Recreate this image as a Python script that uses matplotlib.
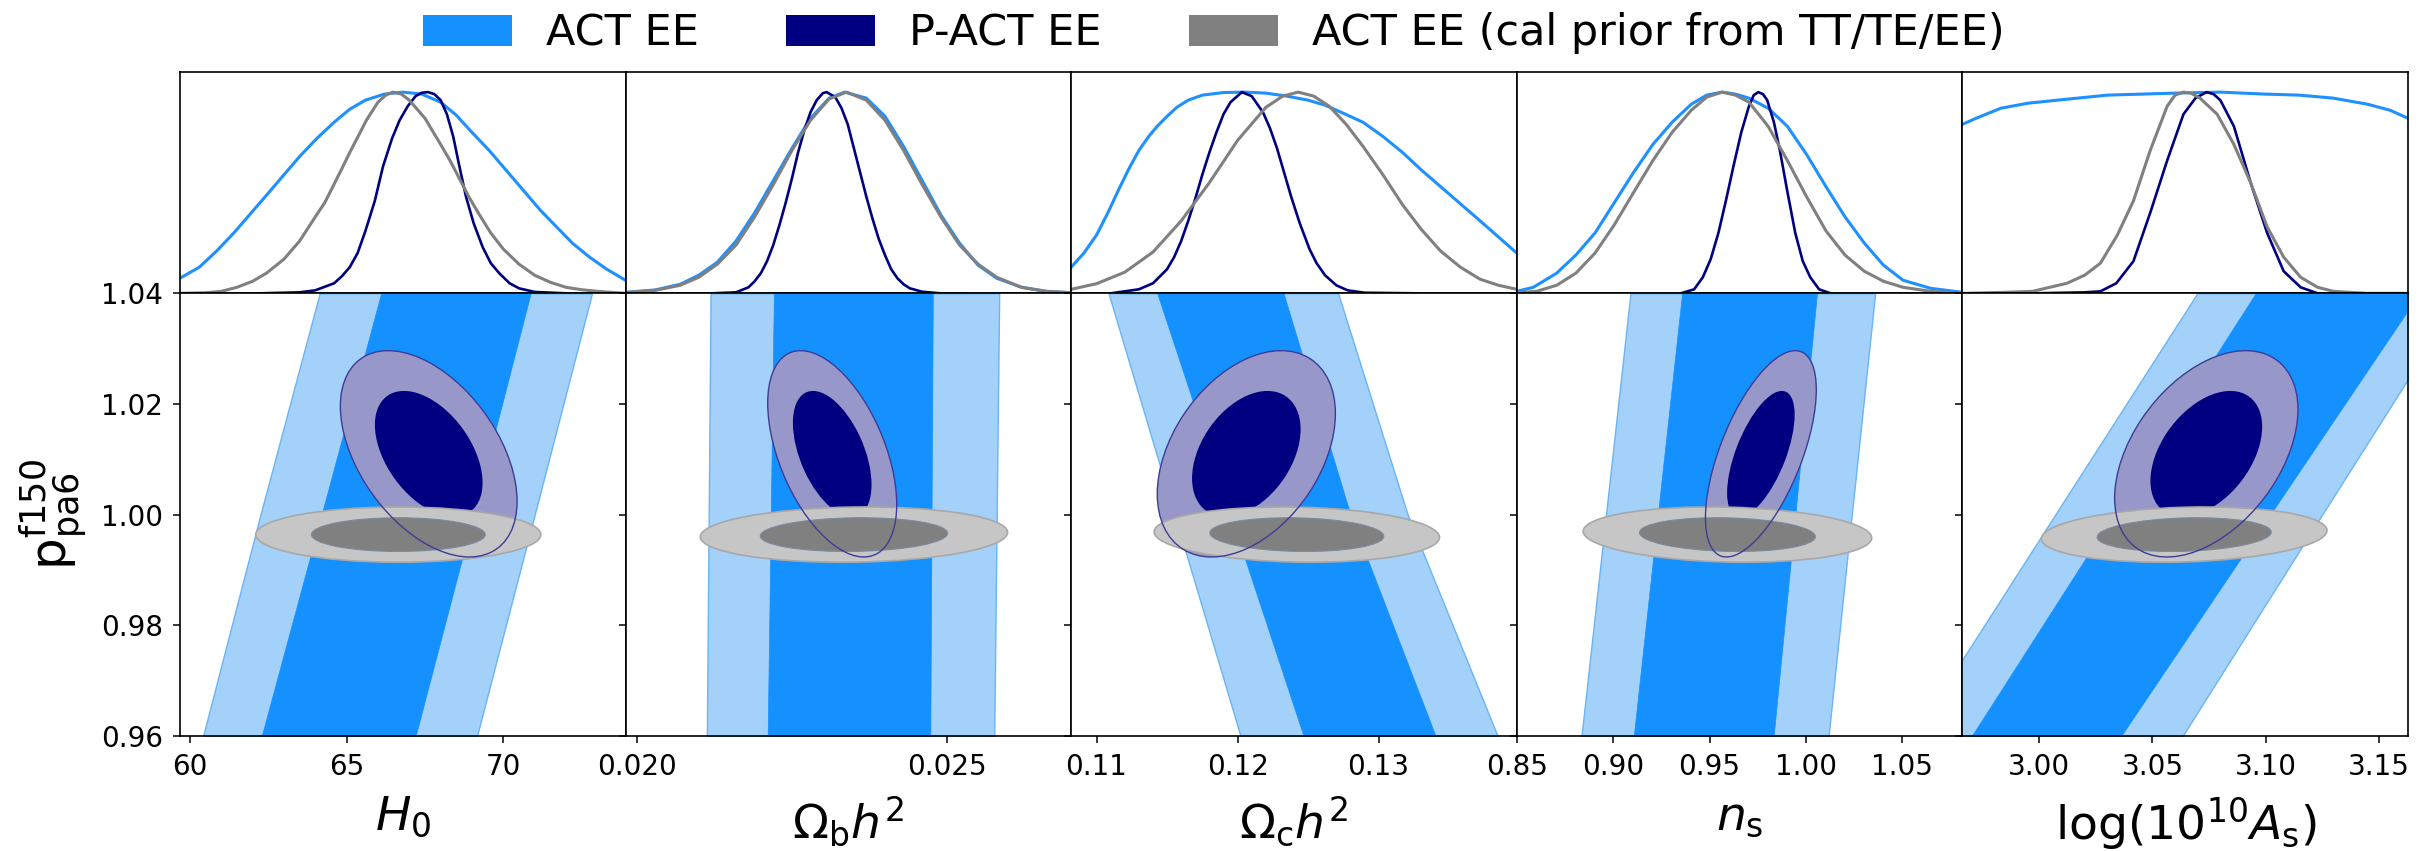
import numpy as np
import matplotlib
matplotlib.use('Agg')
import matplotlib.pyplot as plt
from matplotlib.patches import Circle, Patch
from matplotlib.transforms import Affine2D

# ---- 1D marginals (x, relative density) ----
h0_act_x = [59.68, 60.3, 60.85, 61.4, 61.9, 62.4, 62.95, 63.5, 64.05, 64.6, 65.1, 65.6, 66.2, 66.8, 67.4,
            68.0, 68.5, 69.0, 69.55, 70.1, 70.65, 71.2, 71.7, 72.2, 72.75, 73.3, 73.9]
h0_act_y = [0.075, 0.13, 0.21, 0.30, 0.39, 0.48, 0.58, 0.68, 0.77, 0.85, 0.915, 0.96, 0.99, 1.0, 0.99,
            0.95, 0.885, 0.80, 0.71, 0.61, 0.51, 0.41, 0.33, 0.25, 0.18, 0.12, 0.065]
h0_pact_x = [62.2, 63.5, 64.0, 64.6, 64.85, 65.1, 65.35, 65.6, 65.9, 66.16, 66.45, 66.69, 66.95, 67.2, 67.4,
             67.6, 67.8, 68.0, 68.2, 68.4, 68.6, 68.81, 69.05, 69.34, 69.6, 69.87, 70.2, 70.5, 71.0, 72.0]
h0_pact_y = [0.0, 0.005, 0.015, 0.05, 0.085, 0.13, 0.20, 0.31, 0.46, 0.63, 0.77, 0.86, 0.93, 0.98, 0.997,
             1.0, 0.99, 0.96, 0.89, 0.78, 0.63, 0.48, 0.35, 0.23, 0.15, 0.10, 0.05, 0.025, 0.007, 0.0]
h0_cal_x = [59.68, 60.5, 61.0, 61.5, 62.0, 62.44, 63.0, 63.5, 64.0, 64.3, 64.56, 64.85, 65.1, 65.4, 65.63,
            66.0, 66.25, 66.47, 66.75, 67.0, 67.5, 68.0, 68.3, 68.6, 68.9, 69.2, 69.6, 70.0, 70.5, 71.0,
            71.5, 72.0, 72.5, 73.0, 73.9]
h0_cal_y = [0.0, 0.003, 0.01, 0.03, 0.06, 0.10, 0.17, 0.26, 0.38, 0.45, 0.53, 0.62, 0.70, 0.79, 0.86,
            0.95, 0.985, 1.0, 0.99, 0.96, 0.87, 0.74, 0.66, 0.57, 0.48, 0.40, 0.30, 0.22, 0.145, 0.09,
            0.055, 0.03, 0.018, 0.01, 0.0]

ombh2_act_x = [0.01982, 0.0203, 0.0207, 0.0210, 0.0213, 0.0216, 0.0219, 0.0222, 0.0225, 0.0228, 0.0231, 0.02335,
               0.0237, 0.0240, 0.0243, 0.0246, 0.0249, 0.0252, 0.0255, 0.0258, 0.0262, 0.0266, 0.0270]
ombh2_act_y = [0.005, 0.017, 0.045, 0.09, 0.155, 0.26, 0.40, 0.56, 0.72, 0.87, 0.97, 1.0,
               0.97, 0.88, 0.73, 0.56, 0.39, 0.25, 0.14, 0.075, 0.03, 0.01, 0.003]
ombh2_pact_x = [0.0212, 0.0216, 0.0218, 0.0219, 0.0220, 0.0221, 0.0222, 0.0223, 0.0224, 0.0225, 0.0226, 0.0227,
                0.0228, 0.0229, 0.0230, 0.02306, 0.0232, 0.0233, 0.0234, 0.0235, 0.0236, 0.0237, 0.0238, 0.0239,
                0.0240, 0.0241, 0.0242, 0.0243, 0.0244, 0.0246, 0.0249, 0.0253]
ombh2_pact_y = [0.0, 0.005, 0.03, 0.06, 0.10, 0.16, 0.24, 0.34, 0.45, 0.57, 0.70, 0.81,
                0.90, 0.96, 0.995, 1.0, 0.975, 0.92, 0.84, 0.72, 0.60, 0.48, 0.37, 0.27,
                0.19, 0.12, 0.075, 0.045, 0.025, 0.008, 0.0, 0.0]
ombh2_cal_x = [0.01982, 0.0203, 0.0207, 0.0210, 0.0213, 0.0216, 0.0219, 0.0222, 0.0225, 0.0228, 0.0231, 0.02338,
               0.0237, 0.0240, 0.0243, 0.0246, 0.0249, 0.0252, 0.0255, 0.0258, 0.0262, 0.0266, 0.0270]
ombh2_cal_y = [0.004, 0.015, 0.04, 0.08, 0.145, 0.24, 0.38, 0.54, 0.71, 0.86, 0.966, 1.0,
               0.96, 0.86, 0.71, 0.54, 0.38, 0.24, 0.145, 0.08, 0.03, 0.01, 0.003]

omch2_act_x = [0.1082, 0.1091, 0.1100, 0.1108, 0.1116, 0.1123, 0.1130, 0.1137, 0.1143, 0.1150, 0.1157, 0.1165,
               0.1175, 0.1190, 0.1205, 0.1220, 0.1235, 0.1250, 0.1262, 0.1275, 0.1289, 0.1303, 0.1317, 0.1330,
               0.1344, 0.1358, 0.1372, 0.1385, 0.1398]
omch2_act_y = [0.13, 0.20, 0.29, 0.40, 0.52, 0.62, 0.71, 0.78, 0.83, 0.88, 0.925, 0.96,
               0.985, 0.998, 1.0, 0.995, 0.98, 0.96, 0.935, 0.895, 0.85, 0.78, 0.70, 0.615,
               0.53, 0.445, 0.36, 0.28, 0.20]
omch2_pact_x = [0.1110, 0.1130, 0.1140, 0.1150, 0.1155, 0.1160, 0.1165, 0.1170, 0.1175, 0.1180, 0.1185, 0.1190,
                0.1195, 0.1203, 0.1210, 0.1218, 0.1223, 0.1228, 0.1233, 0.1238, 0.1244, 0.1251, 0.1256, 0.1262,
                0.1270, 0.1278, 0.1290, 0.1328]
omch2_pact_y = [0.0, 0.02, 0.05, 0.12, 0.18, 0.26, 0.36, 0.47, 0.59, 0.70, 0.80, 0.89,
                0.95, 1.0, 0.98, 0.90, 0.82, 0.72, 0.60, 0.48, 0.35, 0.22, 0.15, 0.09,
                0.04, 0.015, 0.003, 0.0]
omch2_cal_x = [0.1082, 0.1100, 0.1120, 0.1140, 0.1160, 0.1180, 0.1200, 0.1220, 0.1232, 0.1243, 0.1254, 0.1265,
               0.1277, 0.1289, 0.1303, 0.1317, 0.1330, 0.1344, 0.1358, 0.1372, 0.1385, 0.1398]
omch2_cal_y = [0.02, 0.048, 0.105, 0.205, 0.36, 0.55, 0.76, 0.924, 0.98, 1.0, 0.98, 0.93,
               0.84, 0.73, 0.59, 0.44, 0.32, 0.21, 0.13, 0.07, 0.04, 0.02]

ns_act_x = [0.8497, 0.8583, 0.8704, 0.8804, 0.8904, 0.9004, 0.9104, 0.9205, 0.9305, 0.9405, 0.9485, 0.9565,
            0.9635, 0.9705, 0.9805, 0.9905, 1.0005, 1.0106, 1.0205, 1.0305, 1.0405, 1.0507, 1.0650, 1.0816]
ns_act_y = [0.01, 0.03, 0.10, 0.19, 0.30, 0.45, 0.60, 0.74, 0.85, 0.94, 0.985, 1.0,
            0.99, 0.97, 0.92, 0.83, 0.69, 0.53, 0.38, 0.25, 0.14, 0.065, 0.025, 0.005]
ns_pact_x = [0.9350, 0.9420, 0.9465, 0.9506, 0.9546, 0.9585, 0.9624, 0.9665, 0.9705, 0.9730, 0.9754, 0.9778,
             0.9800, 0.9835, 0.9866, 0.9906, 0.9946, 0.9985, 1.0024, 1.0070, 1.0130]
ns_pact_y = [0.0, 0.02, 0.08, 0.17, 0.30, 0.46, 0.63, 0.80, 0.93, 0.985, 1.0, 0.99,
             0.96, 0.85, 0.71, 0.50, 0.30, 0.16, 0.08, 0.02, 0.0]
ns_cal_x = [0.8497, 0.8600, 0.8704, 0.8804, 0.8904, 0.9004, 0.9104, 0.9205, 0.9305, 0.9405, 0.9485, 0.9565,
            0.9635, 0.9705, 0.9805, 0.9905, 1.0005, 1.0106, 1.0205, 1.0305, 1.0405, 1.0507, 1.0650, 1.0816]
ns_cal_y = [0.003, 0.01, 0.04, 0.10, 0.20, 0.34, 0.50, 0.66, 0.80, 0.91, 0.975, 1.0,
            0.985, 0.95, 0.83, 0.66, 0.48, 0.31, 0.19, 0.11, 0.06, 0.03, 0.01, 0.0]

loga_act_x = [2.966, 2.972, 2.983, 2.995, 3.008, 3.030, 3.060, 3.080, 3.100, 3.115, 3.130, 3.145, 3.155, 3.163]
loga_act_y = [0.84, 0.87, 0.92, 0.945, 0.96, 0.985, 0.995, 1.0, 0.99, 0.985, 0.97, 0.94, 0.91, 0.87]
loga_pact_x = [2.997, 3.020, 3.027, 3.034, 3.0416, 3.049, 3.0565, 3.0637, 3.0690, 3.0739, 3.0770, 3.080, 3.086,
               3.0934, 3.1007, 3.108, 3.1155, 3.123, 3.140]
loga_pact_y = [0.0, 0.005, 0.01, 0.05, 0.16, 0.40, 0.66, 0.89, 0.97, 1.0, 0.99, 0.96, 0.83,
               0.55, 0.30, 0.11, 0.03, 0.0, 0.0]
loga_cal_x = [2.966, 2.985, 2.997, 3.0122, 3.020, 3.027, 3.0345, 3.0416, 3.049, 3.0565, 3.0600, 3.0636, 3.0670,
              3.071, 3.0786, 3.086, 3.0934, 3.1007, 3.108, 3.1155, 3.123, 3.130, 3.145, 3.163]
loga_cal_y = [0.0, 0.005, 0.01, 0.05, 0.09, 0.15, 0.29, 0.46, 0.71, 0.93, 0.985, 1.0, 0.995,
              0.97, 0.89, 0.74, 0.55, 0.33, 0.18, 0.08, 0.03, 0.01, 0.0, 0.0]

# ---- ACT EE 2D bands: boundary x at p = 0.96, 1.00, 1.04 (one row per parameter) ----
band_p = [0.96, 1.00, 1.04]
act_light_lo = [[60.42, 62.25, 64.14], [0.02113, 0.02116, 0.02119], [0.12021, 0.11553, 0.11085],
                [0.88337, 0.8961, 0.90884], [2.9443, 3.0070, 3.0698]]
act_dark_lo = [[62.29, 64.2, 66.10], [0.02211, 0.02216, 0.02221], [0.12468, 0.11949, 0.11430],
               [0.91057, 0.9231, 0.93571], [2.9701, 3.0328, 3.0956]]
act_dark_hi = [[67.20, 69.05, 70.87], [0.02473, 0.02475, 0.02477], [0.13404, 0.1280, 0.12326],
               [0.98333, 0.9946, 1.00587], [3.0361, 3.1020, 3.168]]
act_light_hi = [[69.16, 71.0, 72.83], [0.02576, 0.02580, 0.02584], [0.13844, 0.13206, 0.12713],
                [1.01192, 1.0240, 1.03617], [3.0633, 3.1250, 3.187]]

# ---- Gaussian summaries of the closed 2D contours ----
pact_mean = [67.62, 0.02315, 0.12062, 0.9767, 3.0738]
pact_sigma = [1.134, 0.000418, 0.00254, 0.0116, 0.0163]
pact_rho = [-0.46, -0.49, 0.39, 0.62, 0.43]
pact_p = (1.011, 0.0075)
cal_mean = [66.65, 0.0235, 0.1242, 0.9593, 3.0640]
cal_sigma = [1.83, 0.000996, 0.00407, 0.0302, 0.0254]
cal_rho = [0.0, 0.08, -0.10, -0.12, 0.15]
cal_p = (0.9964, 0.00201)

xlabels = [r'$H_0$', r'$\Omega_{\rm b}h^2$', r'$\Omega_{\rm c}h^2$', r'$n_{\rm s}$', r'${\rm log}(10^{10}A_{\rm s})$']
xticks = [[60, 65, 70], [0.020, 0.025], [0.11, 0.12, 0.13], [0.85, 0.90, 0.95, 1.00, 1.05], [3.00, 3.05, 3.10, 3.15]]
xticklabels = [['60', '65', '70'], ['0.020', '0.025'], ['0.11', '0.12', '0.13'],
               ['0.85', '0.90', '0.95', '1.00', '1.05'], ['3.00', '3.05', '3.10', '3.15']]
xlims = [(59.68, 73.9), (0.01982, 0.0270), (0.1082, 0.1398), (0.8497, 1.0816), (2.966, 3.163)]
yticks = [0.96, 0.98, 1.00, 1.02, 1.04]
yticklabels = ['0.96', '0.98', '1.00', '1.02', '1.04']

curves = [(h0_act_x, h0_act_y, h0_pact_x, h0_pact_y, h0_cal_x, h0_cal_y),
          (ombh2_act_x, ombh2_act_y, ombh2_pact_x, ombh2_pact_y, ombh2_cal_x, ombh2_cal_y),
          (omch2_act_x, omch2_act_y, omch2_pact_x, omch2_pact_y, omch2_cal_x, omch2_cal_y),
          (ns_act_x, ns_act_y, ns_pact_x, ns_pact_y, ns_cal_x, ns_cal_y),
          (loga_act_x, loga_act_y, loga_pact_x, loga_pact_y, loga_cal_x, loga_cal_y)]

c_act = '#1E90FF'
c_act_dark = '#1490FF'
c_act_light = '#A3D1FA'
c_pact = '#000080'
c_pact_light = '#9797CA'
c_cal = '#808080'
c_cal_light = '#C6C6C6'

K68, K95 = 1.515, 2.486


def gauss_ellipse(ax, mx, my, sx, sy, rho, k, **kw):
    m = np.array([[k * sx, 0, mx], [k * rho * sy, k * sy * np.sqrt(1 - rho ** 2), my], [0, 0, 1]])
    c = Circle((0, 0), 1, transform=Affine2D(m) + ax.transData, **kw)
    ax.add_patch(c)


fig, axes = plt.subplots(2, 5, figsize=(24.18, 8.51), dpi=100, sharex='col',
                         gridspec_kw=dict(height_ratios=[1, 2], wspace=0, hspace=0))
fig.subplots_adjust(left=0.0744, right=0.9959, top=0.9154, bottom=0.1351)

for i in range(5):
    top = axes[0, i]
    bot = axes[1, i]
    ax_, ay_, px_, py_, cx_, cy_ = curves[i]
    top.plot(ax_, ay_, color=c_act, lw=2.2, solid_joinstyle='round')
    top.plot(px_, py_, color=c_pact, lw=1.9, solid_joinstyle='round')
    top.plot(cx_, cy_, color=c_cal, lw=2.2, solid_joinstyle='round')
    top.set_ylim(0, 1.1)
    top.set_yticks([])
    top.tick_params(axis='x', labelbottom=False, length=5, width=1.1)

    bot.fill_betweenx(band_p, act_light_lo[i], act_light_hi[i], facecolor=c_act_light,
                      edgecolor='#6AB4F7', lw=1.0, zorder=1)
    bot.fill_betweenx(band_p, act_dark_lo[i], act_dark_hi[i], facecolor=c_act_dark,
                      edgecolor=c_act_dark, lw=0.5, zorder=1.5)

    gauss_ellipse(bot, pact_mean[i], pact_p[0], pact_sigma[i], pact_p[1], pact_rho[i], K95,
                  facecolor=c_pact_light, edgecolor='none', zorder=2)
    gauss_ellipse(bot, pact_mean[i], pact_p[0], pact_sigma[i], pact_p[1], pact_rho[i], K68,
                  facecolor=c_pact, edgecolor='none', zorder=2.1)
    gauss_ellipse(bot, cal_mean[i], cal_p[0], cal_sigma[i], cal_p[1], cal_rho[i], K95,
                  facecolor=c_cal_light, edgecolor='#A8A8A8', lw=1.2, zorder=3)
    gauss_ellipse(bot, cal_mean[i], cal_p[0], cal_sigma[i], cal_p[1], cal_rho[i], K68,
                  facecolor=c_cal, edgecolor='#7A8AA0', lw=0.8, zorder=3.1)
    gauss_ellipse(bot, pact_mean[i], pact_p[0], pact_sigma[i], pact_p[1], pact_rho[i], K95,
                  facecolor='none', edgecolor='#3C3C96', lw=1.0, zorder=4)

    bot.set_xlim(*xlims[i])
    bot.set_ylim(0.96, 1.04)
    bot.set_xticks(xticks[i])
    bot.set_xticklabels(xticklabels[i])
    bot.set_yticks(yticks)
    bot.tick_params(labelsize=20, length=5, width=1.1, pad=7)
    if i == 0:
        bot.set_yticklabels(yticklabels)
        bot.set_ylabel(r'$\mathrm{p}^{\mathrm{f150}}_{\mathrm{pa6}}$', fontsize=36, labelpad=8)
    else:
        bot.tick_params(labelleft=False)
    bot.set_xlabel(xlabels[i], fontsize=34, labelpad=10)

    for a in (top, bot):
        for s in a.spines.values():
            s.set_linewidth(1.2)

handles = [Patch(facecolor=c_act_dark), Patch(facecolor=c_pact), Patch(facecolor=c_cal)]
names = ['ACT EE', 'P-ACT EE', 'ACT EE (cal prior from TT/TE/EE)']
fig.legend(handles, names, loc='center', bbox_to_anchor=(0.502, 1 - 33.5 / 851), ncol=3, frameon=False,
           fontsize=31, handlelength=2.07, handleheight=0.76, handletextpad=0.78, columnspacing=2.03)

fig.savefig('out.png', dpi=100)
